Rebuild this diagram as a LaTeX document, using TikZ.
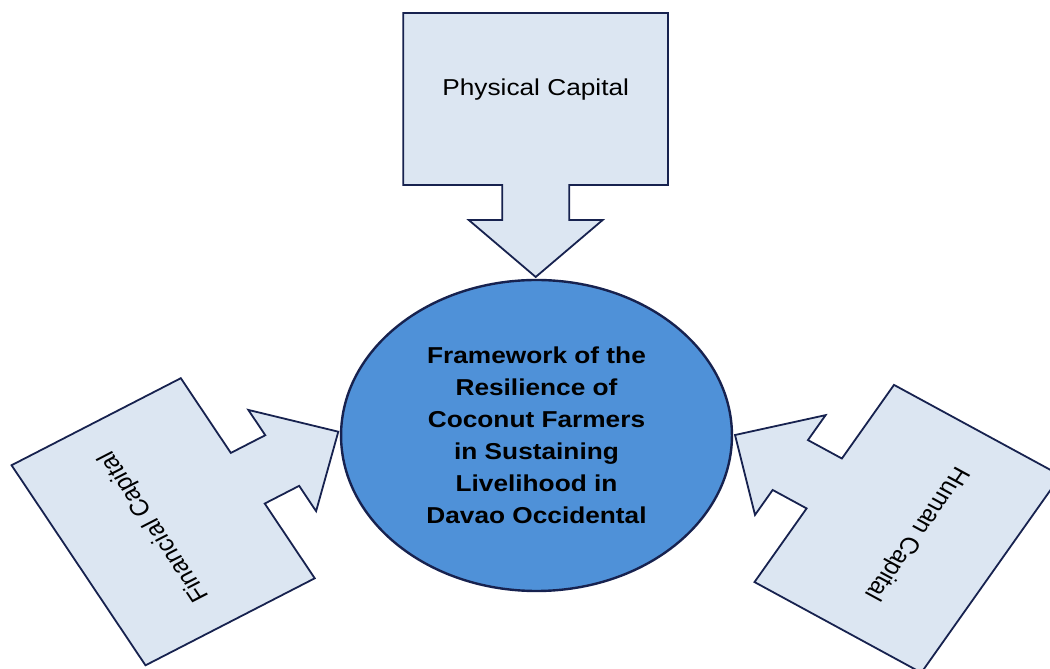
\documentclass[tikz,border=0pt]{standalone}
\usepackage{fontspec}
\setmainfont{Liberation Sans}
\usepackage{tikz}
\usetikzlibrary{shapes.geometric}
\definecolor{boxblue}{HTML}{DCE6F2}
\definecolor{midblue}{HTML}{4F91D8}
\definecolor{navy}{HTML}{17224F}

\begin{document}
\begin{tikzpicture}
[x=1pt,y=1pt,every node/.style={transform shape,font=\fontsize{23pt}{32pt}\selectfont},
 capbox/.style={draw=navy,line width=1.8pt,fill=boxblue}]
  \useasboundingbox (0,0) rectangle (1050,669);
  \clip (0,0) rectangle (1050,669);
  \begin{scope}[xscale=1.141]
  \foreach \tx/\ty/\ang/\lbl [count=\i] in {469.5/392/0/Physical Capital, 296.5/237.3/120.4/Financial Capital, 644.2/234/-121.8/Human Capital}
  {
    \begin{scope}[shift={(\tx,\ty)},rotate=\ang]
      \draw[capbox] (-116,92) -- (-116,264) -- (116,264) -- (116,92) -- (29.35,92) -- (29.35,57)
        -- (58.7,57) -- (0,0) -- (-58.7,57) -- (-29.35,57) -- (-29.35,92) -- cycle;
      \node (cap\i) at (0,187) {\lbl};
    \end{scope}
  }
  \node (frame) [ellipse,draw=navy,line width=2.4pt,fill=midblue,minimum width=342.6pt,minimum height=311pt,
    align=center,font=\fontsize{23pt}{32pt}\selectfont\bfseries] at (470.2,233.5)
    {Framework of the\\Resilience of\\Coconut Farmers\\in Sustaining\\Livelihood in\\Davao Occidental};
  \end{scope}
\end{tikzpicture}
\end{document}
